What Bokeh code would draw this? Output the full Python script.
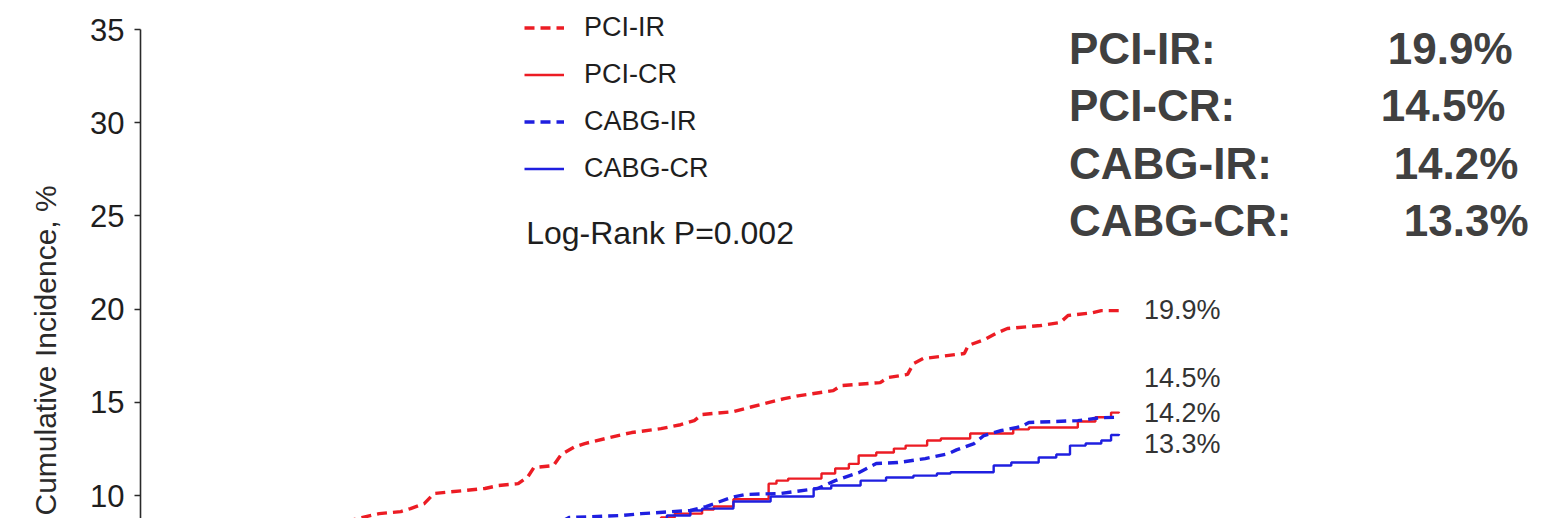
from bokeh.plotting import figure
from bokeh.models import Range1d, FixedTicker, Label, Legend, LegendItem, Title
from bokeh.embed import file_html
from bokeh.resources import INLINE

# ---------------- data (time in years, cumulative incidence in %) ----------------
pci_ir_t = [1.05, 1.13, 1.22, 1.33, 1.38, 1.45, 1.50, 1.76, 1.83, 1.93, 1.98, 2.01, 2.11, 2.15, 2.22,
            2.27, 2.44, 2.51, 2.66, 2.76, 2.83, 2.87, 3.03, 3.12, 3.29, 3.36, 3.54, 3.58, 3.78, 3.82,
            3.92, 3.95, 4.00, 4.21, 4.23, 4.32, 4.38, 4.43, 4.60, 4.70, 4.74, 4.86, 4.91, 5.00]
pci_ir_v = [8.60, 8.82, 9.03, 9.14, 9.30, 9.57, 10.11, 10.38, 10.54, 10.64, 11.02, 11.50, 11.61, 12.20, 12.62,
            12.79, 13.22, 13.38, 13.59, 13.80, 14.02, 14.35, 14.50, 14.75, 15.20, 15.35, 15.63, 15.90, 16.06, 16.33,
            16.50, 17.08, 17.35, 17.62, 18.05, 18.40, 18.74, 18.96, 19.12, 19.28, 19.66, 19.80, 19.92, 19.92]

pci_cr_t = [2.64, 2.66, 2.73, 2.87, 2.93, 3.03, 3.21, 3.25, 3.31, 3.48, 3.55, 3.62, 3.67, 3.76, 3.85,
            3.91, 4.02, 4.09, 4.24, 4.46, 4.54, 4.79, 4.88, 4.96, 5.00]
pci_cr_v = [8.60, 8.82, 9.03, 9.25, 9.41, 9.80, 10.64, 10.80, 10.91, 11.18, 11.45, 11.70, 12.15, 12.31, 12.52,
            12.68, 12.95, 13.06, 13.33, 13.55, 13.65, 13.97, 14.20, 14.45, 14.50]

cabg_ir_t = [2.15, 2.19, 2.46, 2.56, 2.81, 2.89, 3.02, 3.09, 3.27, 3.46, 3.55, 3.67, 3.76, 3.87, 4.01,
             4.13, 4.17, 4.26, 4.31, 4.40, 4.50, 4.54, 4.79, 4.91, 5.00]
cabg_ir_v = [8.60, 8.82, 8.93, 9.03, 9.20, 9.41, 9.90, 10.06, 10.11, 10.38, 10.80, 11.23, 11.72, 11.77, 11.98,
             12.25, 12.45, 12.79, 13.22, 13.49, 13.70, 13.92, 14.02, 14.18, 14.20]

cabg_cr_t = [2.61, 2.69, 2.81, 2.87, 3.03, 3.22, 3.44, 3.53, 3.68, 3.81, 3.95, 4.07, 4.14, 4.36, 4.45,
             4.59, 4.68, 4.75, 4.83, 4.91, 4.96, 5.00]
cabg_cr_v = [8.60, 8.93, 9.20, 9.30, 9.68, 9.95, 10.38, 10.54, 10.80, 10.97, 11.07, 11.18, 11.25, 11.61, 11.77,
             12.04, 12.20, 12.68, 12.79, 12.95, 13.25, 13.30]

series_names = ["PCI-IR", "PCI-CR", "CABG-IR", "CABG-CR"]
end_values = ["19.9%", "14.5%", "14.2%", "13.3%"]
end_label_y = [19.98, 16.33, 14.45, 12.79]
y_ticks = [10, 15, 20, 25, 30, 35]
y_axis_title = "Cumulative Incidence, %"
p_value_text = "Log-Rank P=0.002"

# ---------------- figure ----------------
FONT = "Liberation Sans"
RED = "#ec1c24"
BLUE = "#1f1fe0"
TXT = "#1e1e1e"

p = figure(width=1545, height=518, output_backend="svg", toolbar_location=None,
           x_range=Range1d(0, 7.18), y_range=Range1d(8.77, 36.556),
           x_axis_location=None, y_axis_location="left",
           min_border_left=139, min_border_right=0, min_border_top=0, min_border_bottom=0)
p.outline_line_color = None
p.xgrid.visible = False
p.ygrid.visible = False
p.background_fill_color = "white"
p.border_fill_color = "white"

ax = p.yaxis[0]
ax.bounds = (8.77, 35)
ax.ticker = FixedTicker(ticks=y_ticks)
ax.axis_line_color = "#2a2a2a"
ax.axis_line_width = 1.6
ax.major_tick_line_color = "#2a2a2a"
ax.major_tick_line_width = 1.4
ax.major_tick_out = 6
ax.major_tick_in = 0
ax.minor_tick_line_color = None
ax.major_label_text_font = FONT
ax.major_label_text_font_size = "31px"
ax.major_label_text_color = TXT
ax.major_label_standoff = 10

# y-axis title as a side title anchored at the bottom (the original is cropped at the bottom)
p.add_layout(Title(text=y_axis_title, align="left", offset=3, standoff=52, text_font=FONT,
                   text_font_size="30px", text_font_style="normal", text_color="#2a2a2a"), "left")

r1 = p.line(pci_ir_t, pci_ir_v, line_color=RED, line_width=3.4, line_dash="10 6")
r2 = p.step(pci_cr_t, pci_cr_v, mode="after", line_color=RED, line_width=2.4)
r3 = p.line(cabg_ir_t, cabg_ir_v, line_color=BLUE, line_width=3.4, line_dash="10 6")
r4 = p.step(cabg_cr_t, cabg_cr_v, mode="after", line_color=BLUE, line_width=2.4)

legend = Legend(items=[LegendItem(label=n, renderers=[r]) for n, r in zip(series_names, [r1, r2, r3, r4])],
                location=(384, 334), orientation="vertical")
legend.padding = 0
legend.margin = 0
legend.spacing = 16
legend.glyph_width = 40
legend.glyph_height = 27
legend.label_height = 27
legend.label_standoff = 20
legend.label_text_font = FONT
legend.label_text_font_size = "27px"
legend.label_text_color = TXT
legend.background_fill_alpha = 0
legend.border_line_color = None
p.add_layout(legend, "center")

# p-value text
p.add_layout(Label(x=1.971, y=24.06, text=p_value_text, text_font=FONT, text_font_size="32px",
                   text_color=TXT, text_baseline="middle", text_align="left"))

# end-of-curve labels
for txt, yy in zip(end_values, end_label_y):
    p.add_layout(Label(x=5.128, y=yy, text=txt, text_font=FONT, text_font_size="27px",
                       text_color="#333333", text_baseline="middle", text_align="left"))

# bold summary on the right
row_y = [33.98, 30.92, 27.81, 24.75]
val_x = [6.374, 6.338, 6.404, 6.456]
for name, val, yy, vx in zip(series_names, end_values, row_y, val_x):
    p.add_layout(Label(x=4.745, y=yy, text=name + ":", text_font=FONT, text_font_size="44px",
                       text_font_style="bold", text_color="#404040", text_baseline="middle"))
    p.add_layout(Label(x=vx, y=yy, text=val, text_font=FONT, text_font_size="44px",
                       text_font_style="bold", text_color="#404040", text_baseline="middle"))

open("out.html", "w").write(file_html(p, INLINE))
